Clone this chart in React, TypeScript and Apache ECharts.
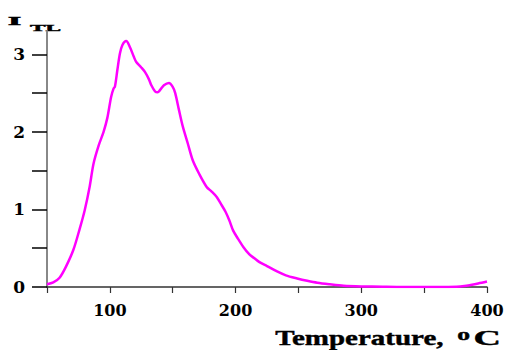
import React, { useEffect, useRef } from "react";
import * as echarts from "echarts";

const temps = [50, 55, 60, 65, 71, 76, 80, 84, 87, 91, 95, 98, 101, 103, 104, 106, 108, 110, 113, 116, 119, 121, 125, 128, 131, 133, 136, 138, 140, 143, 147, 150, 152, 155, 158, 162, 166, 171, 177, 181, 185, 188, 192, 195, 198, 202, 206, 211, 215, 219, 225, 233, 240, 249, 257, 265, 275, 286, 300, 317, 330, 343, 360, 376, 382, 387, 393, 400];
const tlValues = [0.035, 0.06, 0.12, 0.26, 0.48, 0.75, 0.99, 1.3, 1.59, 1.82, 2.0, 2.18, 2.45, 2.56, 2.58, 2.8, 3.01, 3.12, 3.17, 3.09, 2.97, 2.9, 2.83, 2.77, 2.68, 2.6, 2.52, 2.51, 2.54, 2.6, 2.63, 2.58, 2.5, 2.28, 2.07, 1.85, 1.63, 1.46, 1.29, 1.23, 1.16, 1.08, 0.97, 0.86, 0.73, 0.62, 0.52, 0.42, 0.37, 0.32, 0.27, 0.2, 0.15, 0.11, 0.08, 0.055, 0.035, 0.017, 0.008, 0.003, 0.0, 0.0, 0.0, 0.003, 0.012, 0.026, 0.045, 0.07];

const xTickValues = [50, 100, 150, 200, 250, 300, 350, 400];
const xLabelValues = [100, 200, 300, 400];
const yTickValues = [0, 0.5, 1, 1.5, 2, 2.5, 3];
const yLabelValues = [0, 1, 2, 3];

const labelFont = {
  fontFamily: "DejaVu Serif",
  fontWeight: "bold" as const,
  color: "#000",
};

export default function App() {
  const ref = useRef<HTMLDivElement>(null);
  useEffect(() => {
    if (!ref.current) return;
    const chart = echarts.init(ref.current, null, { renderer: "svg" });
    const data = temps.map((t, i) => [t, tlValues[i]]);
    chart.setOption({
      animation: false,
      backgroundColor: "#fff",
      grid: { left: 47, right: 23, top: 31, bottom: 63, containLabel: false },
      xAxis: {
        type: "value",
        min: 50,
        max: 400,
        interval: 50,
        axisLine: { show: true, onZero: false, lineStyle: { color: "#333", width: 1.5 } },
        axisTick: { show: true, length: 6, customValues: xTickValues, lineStyle: { color: "#333", width: 1.2 } },
        axisLabel: { customValues: xLabelValues, margin: 15, fontSize: 16, ...labelFont },
        splitLine: { show: false },
      },
      yAxis: {
        type: "value",
        min: 0,
        max: 3.3,
        interval: 0.5,
        axisLine: { show: true, lineStyle: { color: "#888", width: 2 } },
        axisTick: { show: true, length: 15, customValues: yTickValues, lineStyle: { color: "#000", width: 1.5 } },
        axisLabel: { customValues: yLabelValues, margin: 22, fontSize: 17, ...labelFont },
        splitLine: { show: false },
      },
      series: [
        {
          type: "line",
          data,
          showSymbol: false,
          smooth: 0.3,
          lineStyle: { color: "#ff00ff", width: 2.5 },
        },
      ],
      graphic: [
        {
          type: "text",
          x: 8,
          y: 14.5,
          scaleX: 2.8,
          style: { text: "I", fontFamily: "Liberation Serif", fontWeight: "bold", fontSize: 12, fill: "#000", stroke: "#000", lineWidth: 0.6 },
        },
        {
          type: "text",
          x: 30,
          y: 23.5,
          scaleX: 2.6,
          style: { text: "TL", fontFamily: "Liberation Serif", fontWeight: "bold", fontSize: 9, fill: "#000", stroke: "#000", lineWidth: 0.4 },
        },
        {
          type: "text",
          left: 275,
          top: 328,
          scaleX: 1.45,
          style: { text: "Temperature,", fontFamily: "Liberation Serif", fontWeight: "bold", fontSize: 20, fill: "#000", stroke: "#000", lineWidth: 0.4 },
        },
        {
          type: "text",
          left: 457,
          top: 327,
          scaleX: 1.6,
          style: { text: "o", fontFamily: "Liberation Serif", fontWeight: "bold", fontSize: 16, fill: "#000", stroke: "#000", lineWidth: 0.4 },
        },
        {
          type: "text",
          left: 473,
          top: 328,
          scaleX: 1.9,
          style: { text: "C", fontFamily: "Liberation Serif", fontWeight: "bold", fontSize: 20, fill: "#000", stroke: "#000", lineWidth: 0.4 },
        },
      ],
    });
    return () => chart.dispose();
  }, []);
  return <div ref={ref} style={{ position: "fixed", left: 0, top: 0, width: 510, height: 350 }} />;
}
